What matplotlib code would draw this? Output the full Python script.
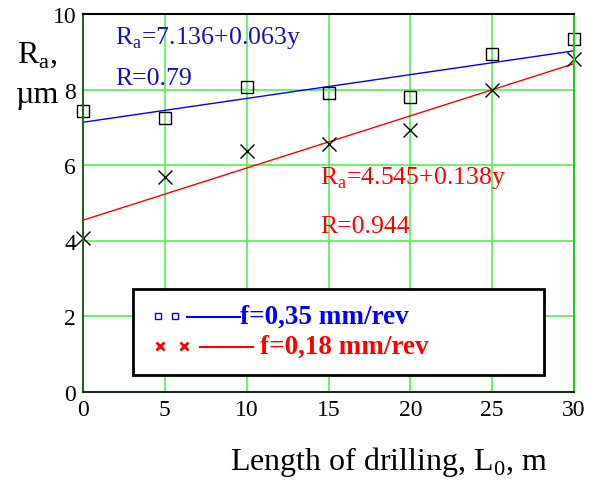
import matplotlib
matplotlib.use("Agg")
import matplotlib.pyplot as plt
import numpy as np

plt.rcParams['font.family'] = ['Liberation Serif', 'DejaVu Serif']
plt.rcParams['mathtext.fontset'] = 'custom'
plt.rcParams['mathtext.rm'] = 'Liberation Serif'

# measured points
L = [0, 5, 10, 15, 20, 25, 30]
ra_035 = [7.43, 7.25, 8.08, 7.92, 7.8, 8.95, 9.33]
ra_018 = [4.08, 5.68, 6.38, 6.55, 6.92, 8.0, 8.8]

# regression coefficients
a1, b1 = 7.136, 0.063
a2, b2 = 4.545, 0.138

fig = plt.figure(figsize=(5.92, 4.81), dpi=100)
ax = fig.add_axes([83/592, 1 - 393/481, 491/592, 378/481])

xx = np.array([0, 30])
ax.plot(xx, a1 + b1*xx, color="blue", lw=1)
ax.plot(xx, a2 + b2*xx, color="red", lw=1)
ax.plot(L, ra_035, ls="none", marker="s", ms=9, mfc="none", mec="black", mew=1, clip_on=False)
ax.plot(L, ra_018, ls="none", marker="x", ms=10, mec="black", mew=1, clip_on=False)

ax.set_xlim(0, 30)
ax.set_ylim(0, 10)
ax.set_xticks(range(0, 31, 5))
ax.set_yticks(range(0, 11, 2))
ax.grid(True, color="#55ee55", lw=1.2)
ax.set_axisbelow(True)
ax.tick_params(length=0, labelsize=17, pad=5)
ax.spines["left"].set_color("#226622")
ax.spines["bottom"].set_color("#113311")
ax.spines["right"].set_color("#22cc22")
ax.spines["top"].set_color("black")
for s in ax.spines.values():
    s.set_linewidth(1.5)

fig.text(17/592, 1 - 55/481, r"R$_\mathregular{a}$,", fontsize=23, va="center", ha="left")
fig.text(16/592, 1 - 95/481, "\u00b5m", fontsize=23, va="center", ha="left")
fig.text(389/592, 1 - 462/481, r"Length of drilling, L$_\mathregular{0}$, m", fontsize=23, ha="center", va="center")

ax.text(1.95, 9.38, r"R$_\mathregular{a}$=7.136+0.063y", color="#1010c0", fontsize=18.5, va="center")
ax.text(1.95, 8.3, "R=0.79", color="#1010c0", fontsize=18.5, va="center")
ax.text(14.5, 5.69, r"R$_\mathregular{a}$=4.545+0.138y", color="red", fontsize=18.5, va="center")
ax.text(14.5, 4.4, "R=0.944", color="red", fontsize=18.5, va="center")

# legend box
tr = ax.transAxes
def fx(px):
    return (px - 83) / 491
def fy(py):
    return (393 - py) / 378
ax.add_patch(plt.Rectangle((fx(133), fy(376)), fx(544) - fx(133), fy(290) - fy(376),
                           transform=tr, fc="white", ec="black", lw=2, zorder=5))
ax.plot([fx(158), fx(175)], [fy(317)] * 2, ls="none", marker="s", ms=5, mfc="none", mec="blue", mew=1, transform=tr, zorder=6)
ax.plot([fx(187), fx(240)], [fy(318)] * 2, color="blue", lw=1.5, transform=tr, zorder=6)
ax.text(fx(240), fy(317), "f=0,35 mm/rev", color="blue", fontsize=19.5, fontweight="bold", va="center", transform=tr, zorder=6)
ax.plot([fx(160), fx(184)], [fy(347)] * 2, ls="none", marker="x", ms=6, mec="red", mew=2, transform=tr, zorder=6)
ax.plot([fx(200), fx(253)], [fy(348)] * 2, color="red", lw=1.5, transform=tr, zorder=6)
ax.text(fx(260), fy(347), "f=0,18 mm/rev", color="red", fontsize=19.5, fontweight="bold", va="center", transform=tr, zorder=6)

fig.savefig("out.png", dpi=100)
